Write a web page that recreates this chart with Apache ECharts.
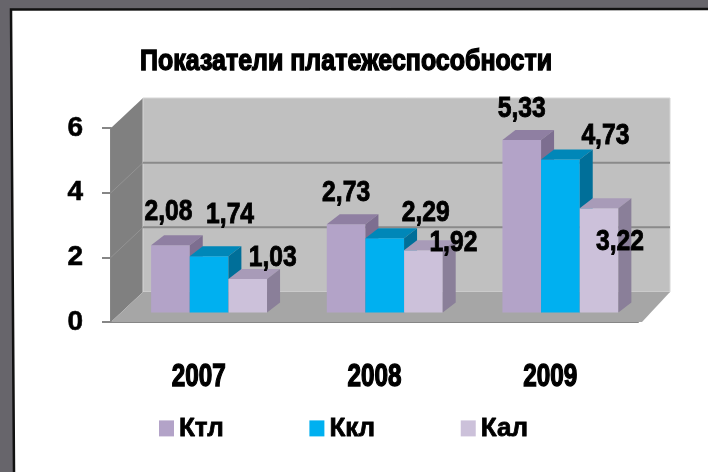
<!DOCTYPE html>
<html>
<head>
<meta charset="utf-8">
<script src="https://cdn.jsdelivr.net/npm/echarts@6/dist/echarts.min.js"></script>
<style>
  html, body { margin: 0; padding: 0; background: #fff; }
  #main { width: 708px; height: 472px; }
</style>
</head>
<body>
<div id="main"></div>
<script>
// data
const chartTitle = 'Показатели платежеспособности';
const years = ['2007', '2008', '2009'];
const seriesNames = ['Ктл', 'Ккл', 'Кал'];
const ktl = [2.08, 2.73, 5.33];
const kkl = [1.74, 2.29, 4.73];
const kal = [1.03, 1.92, 3.22];
const yTicks = [0, 2, 4, 6];

// look
const faceColors = [
  { front: '#b3a3c8', top: '#8f7fa2', side: '#7d6e90' },
  { front: '#00b0f0', top: '#0087b8', side: '#006f99' },
  { front: '#ccc1da', top: '#a89bb8', side: '#8a7f99' }
];
// label nudges (px) per series / category, the labels sit a bit off in the original
const labelNudge = [
  [[-2, 0], [0, 2], [0, 2]],
  [[21, -8], [41, 8], [45, 10]],
  [[25, 12], [30, 26], [21, 67]]
];
const DEPTH_X = 32, DEPTH_Y = -30;   // wall depth
const BAR_POS = 0.32;                // where bars stand inside the depth
const BAR_DX = 13, BAR_DY = -10;     // bar depth
const BAR_SHARE = 0.22;
const FONT = '"Liberation Sans", Arial, sans-serif';

// the original uses a squeezed heavy face, so scale text in x and thicken it a bit
const ctx = document.createElement('canvas').getContext('2d');
function textWidth(str, size) {
  ctx.font = 'bold ' + size + 'px ' + FONT;
  return ctx.measureText(str).width;
}
const titleScale = 412 / textWidth(chartTitle, 30);
const yearScale = 54 / textWidth('2007', 31);
const valueScale = 48 / textWidth('2,08', 29);
const legendGap = 150 - 15 - 5 - textWidth('Ктл', 26);

const fmt = v => v.toFixed(2).replace('.', ',');
const heavy = { fill: '#000', stroke: '#000', fontWeight: 'bold', fontFamily: FONT,
                align: 'center', verticalAlign: 'middle' };

function wallRenderer(params, api) {
  const cs = params.coordSys;
  const L = cs.x, R = cs.x + cs.width;
  const B = api.coord([0, yTicks[0]])[1];
  const T = api.coord([0, yTicks[yTicks.length - 1]])[1];
  const kids = [
    { type: 'polygon', shape: { points: [[L, T], [L + DEPTH_X, T + DEPTH_Y], [L + DEPTH_X, B + DEPTH_Y], [L, B]] },
      style: { fill: '#808080' } },
    { type: 'rect', shape: { x: L + DEPTH_X, y: T + DEPTH_Y, width: R - L, height: B - T },
      style: { fill: '#c0c0c0', stroke: '#d6d6d6', lineWidth: 1 } },
    { type: 'polygon', shape: { points: [[L, B], [L + DEPTH_X, B + DEPTH_Y], [R + DEPTH_X, B + DEPTH_Y], [R + 4, B]] },
      style: { fill: '#a6a6a6' } }
  ];
  yTicks.slice(1, -1).forEach(t => {
    const y = api.coord([0, t])[1];
    kids.push({ type: 'line', shape: { x1: L + DEPTH_X, y1: y + DEPTH_Y, x2: R + DEPTH_X, y2: y + DEPTH_Y },
      style: { stroke: '#8a8a8a', lineWidth: 2 } });
    kids.push({ type: 'line', shape: { x1: L, y1: y, x2: L + DEPTH_X, y2: y + DEPTH_Y },
      style: { stroke: '#939393', lineWidth: 1 } });
  });
  return { type: 'group', children: kids };
}

function barRenderer(si) {
  return function (params, api) {
    const ci = api.value(0), v = api.value(1);
    const base = api.coord([ci, 0]);
    const top = api.coord([ci, v]);
    const bw = api.size([1, 0])[0] * BAR_SHARE;
    const x0 = base[0] - 1.5 * bw + si * bw + DEPTH_X * BAR_POS;
    const yb = base[1] + DEPTH_Y * BAR_POS;
    const yt = top[1] + DEPTH_Y * BAR_POS;
    const c = faceColors[si];
    const n = labelNudge[si][ci];
    return {
      type: 'group',
      children: [
        { type: 'rect', shape: { x: x0, y: yt, width: bw, height: yb - yt }, style: { fill: c.front } },
        { type: 'polygon', shape: { points: [[x0, yt], [x0 + BAR_DX, yt + BAR_DY], [x0 + bw + BAR_DX, yt + BAR_DY], [x0 + bw, yt]] },
          style: { fill: c.top } },
        { type: 'polygon', shape: { points: [[x0 + bw, yt], [x0 + bw + BAR_DX, yt + BAR_DY], [x0 + bw + BAR_DX, yb + BAR_DY], [x0 + bw, yb]] },
          style: { fill: c.side } },
        { type: 'text', x: x0 + bw / 2 + n[0], y: yt - 33 + n[1], z2: 10, scaleX: valueScale,
          style: Object.assign({ text: fmt(v), fontSize: 29, lineWidth: 0.9 }, heavy) }
      ]
    };
  };
}

// category labels under each band
function yearRenderer(params, api) {
  const p = api.coord([api.value(0), 0]);
  return { type: 'text', x: p[0], y: p[1] + 55, scaleX: yearScale,
    style: Object.assign({ text: years[api.value(0)], fontSize: 31, lineWidth: 1.4 }, heavy) };
}

const chart = echarts.init(document.getElementById('main'));
const values = [ktl, kkl, kal];

chart.setOption({
  animation: false,
  backgroundColor: '#fff',
  legend: {
    data: seriesNames,
    left: 159, top: 415, padding: 0,
    icon: 'rect', itemWidth: 15, itemHeight: 16, itemGap: legendGap,
    textStyle: { fontSize: 26, fontWeight: 'bold', fontFamily: FONT, color: '#000',
                 textBorderColor: '#000', textBorderWidth: 0.8 }
  },
  grid: { left: 111, right: 70, top: 128, bottom: 150 },
  xAxis: {
    type: 'category', data: years,
    axisLine: { lineStyle: { color: '#868686', width: 2 } },
    axisTick: { length: 8, lineStyle: { color: '#868686', width: 2 } },
    axisLabel: { show: false }
  },
  yAxis: {
    type: 'value', min: 0, max: 6, interval: 2,
    axisLine: { show: true, lineStyle: { color: '#868686', width: 2 } },
    axisTick: { show: true, length: 9, lineStyle: { color: '#868686', width: 2 } },
    splitLine: { show: false },
    axisLabel: { margin: 28, fontSize: 28, fontWeight: 'bold', fontFamily: FONT, color: '#000',
                 textBorderColor: '#000', textBorderWidth: 0.6 }
  },
  series: [
    { type: 'custom', name: 'walls', silent: true, clip: false, z: 1,
      renderItem: wallRenderer, data: [[0, 0]] },
    { type: 'custom', name: 'years', silent: true, clip: false,
      renderItem: yearRenderer, data: years.map((y, ci) => [ci, 0]) }
  ].concat(seriesNames.map((name, si) => ({
    type: 'custom', name: name, clip: false, z: 2 + si,
    itemStyle: { color: faceColors[si].front },
    encode: { x: 0, y: 1 },
    renderItem: barRenderer(si),
    data: values[si].map((v, ci) => [ci, v])
  }))),
  graphic: [
    { type: 'polygon', shape: { points: [[0, 0], [708, 0], [708, 8], [11, 9], [14, 472], [0, 472]] },
      style: { fill: '#67656b' }, silent: true },
    { type: 'polyline', shape: { points: [[14, 472], [11, 9.5], [708, 9]] },
      style: { stroke: '#111', lineWidth: 2.5, fill: null }, silent: true },
    { type: 'text', x: 346, y: 62, scaleX: titleScale, silent: true,
      style: Object.assign({ text: chartTitle, fontSize: 30, lineWidth: 1.4 }, heavy) }
  ]
});
</script>
</body>
</html>
